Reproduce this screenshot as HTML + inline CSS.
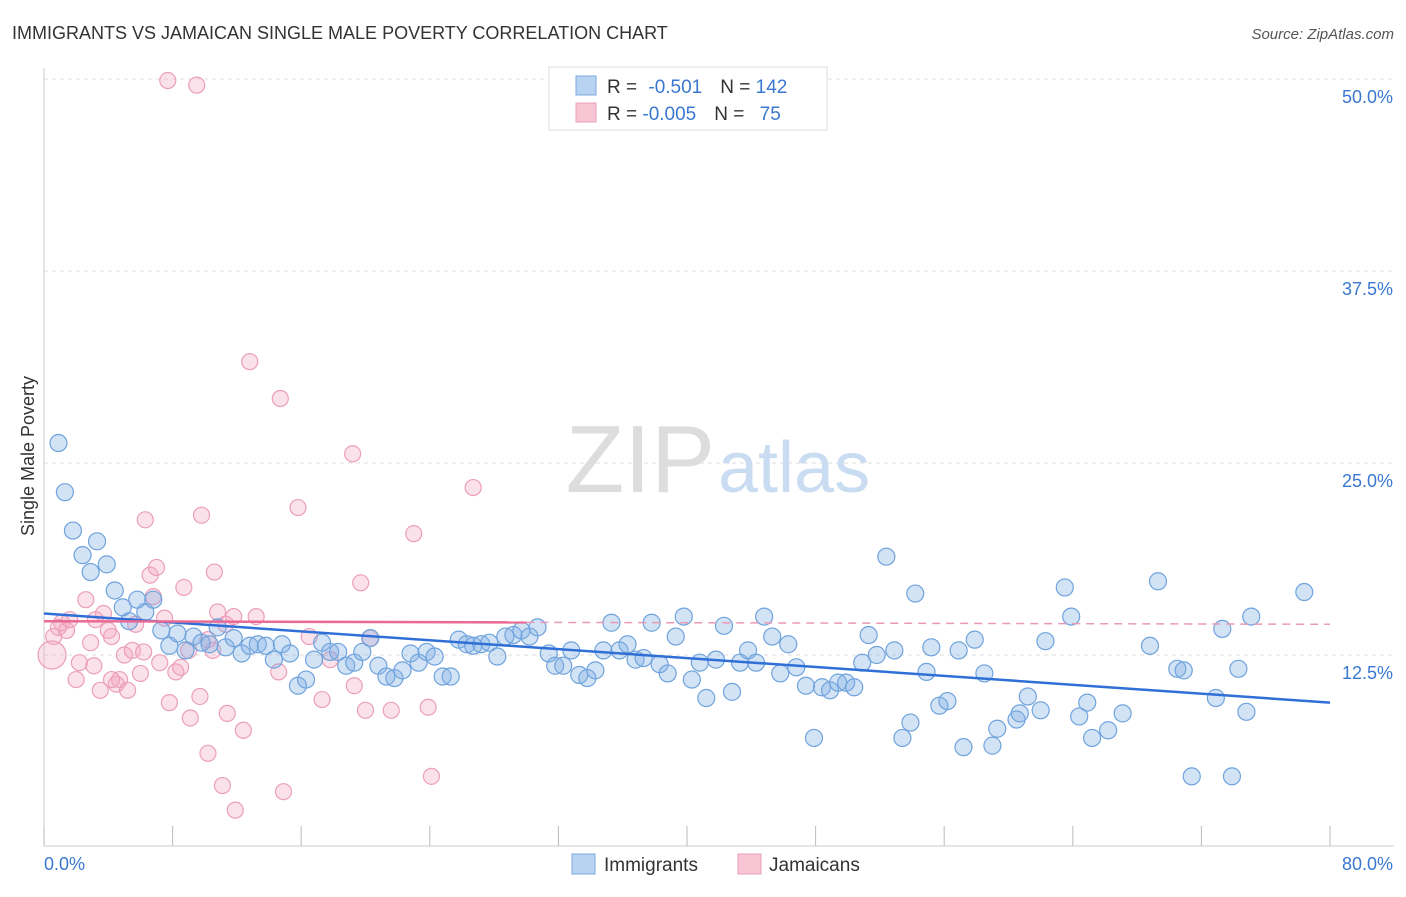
<!DOCTYPE html>
<html><head><meta charset="utf-8">
<style>
body{margin:0;background:#fff;font-family:"Liberation Sans",sans-serif;}
svg text{font-family:"Liberation Sans",sans-serif;}
</style></head>
<body>
<svg id="chart" width="1406" height="892" xmlns="http://www.w3.org/2000/svg">
<text x="12" y="39" font-size="18" fill="#333">IMMIGRANTS VS JAMAICAN SINGLE MALE POVERTY CORRELATION CHART</text>
<text x="1394" y="39" font-size="15" fill="#555" text-anchor="end" font-style="italic">Source: ZipAtlas.com</text>
<text transform="translate(34,456) rotate(-90)" font-size="18" fill="#333" text-anchor="middle">Single Male Poverty</text>
<g id="grid"></g>
<text x="715" y="492" font-size="96" fill="#ddd" text-anchor="end" font-family="Liberation Serif">ZIP</text>
<text x="718" y="492" font-size="72" fill="#c9dcf2">atlas</text>
<g id="axes"></g>
<g id="pts"></g>
<g id="trend"></g>
<g>
<rect x="549" y="67" width="278" height="63" fill="#fff" stroke="#ddd"/>
<rect x="576" y="76" width="20" height="19" fill="#b8d3f2" stroke="#7aa8de"/>
<rect x="576" y="103" width="20" height="19" fill="#f8c5d5" stroke="#eaa0ba"/>
<text x="607" y="93" font-size="19" fill="#333">R = <tspan fill="#3a78d0" dx="6">-0.501</tspan><tspan fill="#333" dx="18">N = </tspan><tspan fill="#3a78d0">142</tspan></text>
<text x="607" y="120" font-size="19" fill="#333">R = <tspan fill="#3a78d0" dx="0">-0.005</tspan><tspan fill="#333" dx="18">N = </tspan><tspan fill="#3a78d0" dx="10">75</tspan></text>
</g>
<g>
<rect x="572" y="854" width="23" height="20" fill="#b8d3f2" stroke="#7aa8de"/>
<text x="604" y="871" font-size="19" fill="#333">Immigrants</text>
<rect x="738" y="854" width="23" height="20" fill="#f8c5d5" stroke="#eaa0ba"/>
<text x="769" y="871" font-size="19" fill="#333">Jamaicans</text>
</g>
</svg>
<script>
const blueX=[0.9,1.3,1.8,2.4,2.9,3.3,3.9,4.4,4.9,5.3,5.8,6.3,6.8,7.3,7.8,8.3,8.8,9.3,9.8,10.3,10.8,11.3,11.8,12.3,12.8,13.3,13.8,14.3,14.8,15.3,15.8,16.3,16.8,17.3,17.8,18.3,18.8,19.3,19.8,20.3,20.8,21.3,21.8,22.3,22.8,23.3,23.8,24.3,24.8,25.3,25.8,26.3,26.7,27.2,27.7,28.2,28.7,29.2,29.7,30.2,30.7,31.4,31.8,32.3,32.8,33.3,33.8,34.3,34.8,35.3,35.8,36.3,36.8,37.3,37.8,38.3,38.8,39.3,39.8,40.3,40.8,41.2,41.8,42.3,42.8,43.3,43.8,44.3,44.8,45.3,45.8,46.3,46.8,47.4,47.9,48.4,48.9,49.4,49.9,50.4,50.9,51.3,51.8,52.4,52.9,53.4,53.9,54.2,54.9,55.2,55.7,56.2,56.9,57.2,57.9,58.5,59.0,59.3,60.5,60.7,61.2,62.0,62.3,63.5,63.9,64.4,64.9,65.2,66.2,67.1,68.8,69.3,70.5,70.9,71.4,72.9,73.3,73.9,74.3,74.8,75.1,78.4];
const blueY=[26.3,23.1,20.6,19.0,17.9,19.9,18.4,16.7,15.6,14.7,16.1,15.3,16.1,14.1,13.1,13.9,12.8,13.7,13.3,13.2,14.3,13.0,13.6,12.6,13.1,13.2,13.1,12.2,13.2,12.6,10.5,10.9,12.2,13.3,12.7,12.7,11.8,12.0,12.7,13.6,11.8,11.1,11.0,11.5,12.6,12.0,12.7,12.4,11.1,11.1,13.5,13.2,13.1,13.2,13.3,12.4,13.7,13.8,14.1,13.7,14.3,12.6,11.8,11.8,12.8,11.2,11.0,11.5,12.8,14.6,12.8,13.2,12.2,12.3,14.6,11.9,11.3,13.7,15.0,10.9,12.0,9.7,12.2,14.4,10.1,12.0,12.8,12.0,15.0,13.7,11.3,13.2,11.7,10.5,7.1,10.4,10.2,10.7,10.7,10.4,12.0,13.8,12.5,18.9,12.8,7.1,8.1,16.5,11.4,13.0,9.2,9.5,12.8,6.5,13.5,11.3,6.6,7.7,8.3,8.7,9.8,8.9,13.4,16.9,15.0,8.5,9.4,7.1,7.6,8.7,13.1,17.3,11.6,11.5,4.6,9.7,14.2,4.6,11.6,8.8,15.0,16.6];
const pinkX=[7.7,9.5,12.8,14.7,19.2,26.7,23.0,15.8,9.8,6.3,0.6,0.9,1.1,1.4,1.6,2.0,2.2,2.6,2.9,3.1,3.5,3.7,4.0,4.2,4.5,4.7,5.0,5.2,5.5,5.7,6.0,6.2,6.6,6.8,7.0,7.2,7.5,7.8,8.2,8.5,8.7,9.0,9.1,9.7,10.2,10.5,10.6,10.8,11.1,11.3,11.4,11.8,11.9,12.4,13.2,14.6,14.9,16.5,17.3,17.8,19.3,19.7,20.0,20.3,21.6,23.9,24.1,10.2,4.2,3.2,0.5];
const pinkY=[49.9,49.6,31.6,29.2,25.6,23.4,20.4,22.1,21.6,21.3,13.7,14.3,14.6,14.1,14.8,10.9,12.0,16.1,13.3,11.8,10.2,15.2,14.1,13.7,10.6,10.9,12.5,10.2,12.8,14.5,11.3,12.7,17.7,16.3,18.2,12.0,14.9,9.4,11.4,11.7,16.9,12.8,8.4,9.8,6.1,12.8,17.9,15.3,4.0,14.5,8.7,15.0,2.4,7.6,15.0,11.4,3.6,13.7,9.6,12.2,10.5,17.2,8.9,13.6,8.9,9.1,4.6,13.5,10.9,14.8,12.5];
const yTicks=[12.5,25.0,37.5,50.0];
const xTickVals=[0,8,16,24,32,40,48,56,64,72,80];
const blueTrend=[15.2,9.4];
const pinkTrend=[14.7,14.5];
const NS="http://www.w3.org/2000/svg";
const X=v=>44+v/80*1286;
const Y=v=>847-v/12.5*192;
function mk(tag,attrs,parent){const e=document.createElementNS(NS,tag);for(const k in attrs)e.setAttribute(k,attrs[k]);parent.appendChild(e);return e;}
const grid=document.getElementById('grid'),axes=document.getElementById('axes');
yTicks.forEach(t=>{
 const l=mk('line',{x1:44,x2:1394,y1:Y(t),y2:Y(t),stroke:'#ddd','stroke-dasharray':'4,4'},grid);
 
 
 const tx=mk('text',{x:1393,y:Y(t)+24,'font-size':18,fill:'#3a78d0','text-anchor':'end'},axes);
 tx.textContent=t.toFixed(1)+'%';
 
 
});
const ax=mk('line',{x1:44,x2:1394,y1:846,y2:846,stroke:'#ccc'},axes);


const ay=mk('line',{x1:44,x2:44,y1:68,y2:846,stroke:'#ccc'},axes);


xTickVals.forEach(t=>{
 const l=mk('line',{x1:X(t),x2:X(t),y1:826,y2:846,stroke:'#bbb'},axes);
 
 
});
const xl0=mk('text',{x:44,y:870,'font-size':18,fill:'#3a78d0'},axes);xl0.textContent='0.0%';


const xl1=mk('text',{x:1393,y:870,'font-size':18,fill:'#3a78d0','text-anchor':'end'},axes);xl1.textContent='80.0%';


const pts=document.getElementById('pts');
pinkX.forEach((x,i)=>{
 const big=i===pinkX.length-1;
 const c=mk('circle',{cx:X(x),cy:Y(pinkY[i]),r:big?14:8,fill:'rgba(244,170,195,0.35)',stroke:'#eb9fba','stroke-width':1.2},pts);
 
 
});
blueX.forEach((x,i)=>{
 const c=mk('circle',{cx:X(x),cy:Y(blueY[i]),r:8.5,fill:'rgba(130,175,230,0.35)',stroke:'#6fa3dc','stroke-width':1.2},pts);
 
 
});
const tr=document.getElementById('trend');
const bt=mk('line',{x1:X(0),y1:Y(blueTrend[0]),x2:X(80),y2:Y(blueTrend[1]),stroke:'#2f6fd6','stroke-width':2.5},tr);


const pAt=v=>pinkTrend[0]+(pinkTrend[1]-pinkTrend[0])*v/80;
const ps=mk('line',{x1:X(0),y1:Y(pAt(0)),x2:X(30),y2:Y(pAt(30)),stroke:'#e86a95','stroke-width':2.5},tr);


const pd=mk('line',{x1:X(30),y1:Y(pAt(30)),x2:X(80),y2:Y(pAt(80)),stroke:'#ea9ab5','stroke-width':1.5,'stroke-dasharray':'8,6'},tr);


</script>
</body></html>
